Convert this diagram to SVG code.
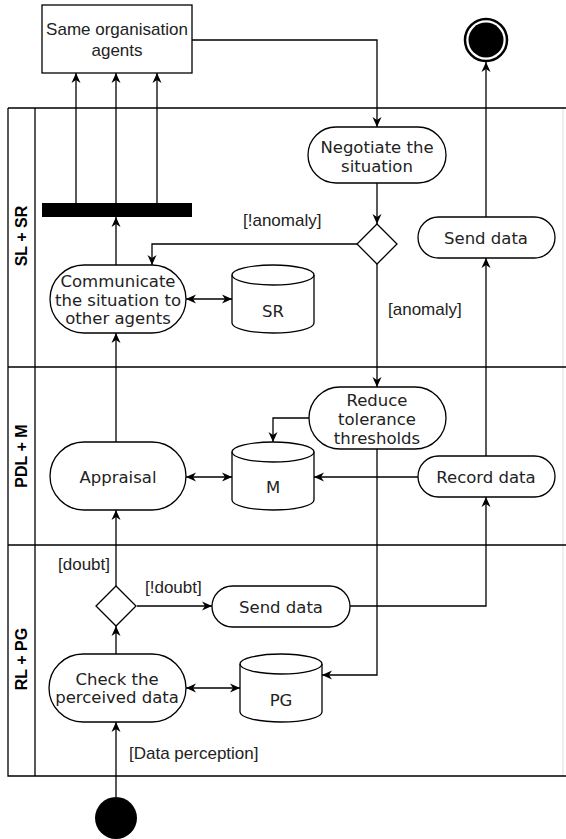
<svg xmlns="http://www.w3.org/2000/svg" width="566" height="839" viewBox="0 0 566 839">
<style>
.ln{fill:none;stroke:#000;stroke-width:1.3}
.sh{fill:#fff;stroke:#000;stroke-width:1.3}
.nt{font-family:"DejaVu Sans",Verdana,sans-serif;font-size:16.5px;fill:#222;text-anchor:middle}
.lb{font-family:"Liberation Sans",Arial,sans-serif;font-size:17px;fill:#222}
.lane{font-family:"Liberation Sans",Arial,sans-serif;font-size:16px;font-weight:bold;fill:#000;text-anchor:middle}
.ar{marker-end:url(#a)}
.bi{marker-end:url(#a);marker-start:url(#a)}
</style>
<defs>
<marker id="a" viewBox="0 0 10 10" refX="10" refY="5" markerWidth="10" markerHeight="10" markerUnits="userSpaceOnUse" orient="auto-start-reverse">
<path d="M0,0.5 L10,5 L0,9.5 L3,5 Z" fill="#000"/>
</marker>
</defs>
<rect width="566" height="839" fill="#fff"/>
<g id="pool">
<line x1="563" y1="108" x2="563" y2="776" stroke="#ddd" stroke-width="1"/>
<path class="ln" d="M8,108 H566 M8,108 V776 H566 M35,108 V776 M8,367 H566 M8,545 H566"/>
<text class="lane" transform="translate(27,236) rotate(-90)">SL + SR</text>
<text class="lane" transform="translate(27,456) rotate(-90)">PDL + M</text>
<text class="lane" transform="translate(27,659) rotate(-90)">RL + PG</text>
</g>
<g id="connectors">
<path class="ln ar" d="M192,40 H377 V127"/>
<path class="ln ar" d="M377,183 V224"/>
<path class="ln ar" d="M357,244 H152 V265"/>
<path class="ln ar" d="M377,264 V387"/>
<path class="ln ar" d="M116,265 V217"/>
<path class="ln ar" d="M76,203 V73"/>
<path class="ln ar" d="M116,203 V73"/>
<path class="ln ar" d="M157,203 V73"/>
<path class="ln bi" d="M186,299 H232"/>
<path class="ln ar" d="M116,442 V333"/>
<path class="ln ar" d="M309,418 H273 V442"/>
<path class="ln ar" d="M418,477 H314"/>
<path class="ln bi" d="M186,477 H232"/>
<path class="ln ar" d="M486,456 V258"/>
<path class="ln ar" d="M486,217 V62"/>
<path class="ln ar" d="M377,449 V675 H322"/>
<path class="ln ar" d="M116,586 V510"/>
<path class="ln ar" d="M137,606 H212"/>
<path class="ln ar" d="M350,606 H486 V497"/>
<path class="ln ar" d="M116,654 V626"/>
<path class="ln bi" d="M186,688 H240"/>
<path class="ln ar" d="M116,797 V722"/>
<text class="lb" x="243" y="226">[!anomaly]</text>
<text class="lb" x="388" y="315">[anomaly]</text>
<text class="lb" x="58" y="570">[doubt]</text>
<text class="lb" x="145" y="593">[!doubt]</text>
<text class="lb" x="129" y="759">[Data perception]</text>
</g>
<g id="agents">
<rect class="sh" x="42" y="5" width="150" height="68"/>
<text class="lb" x="117" y="35" text-anchor="middle">Same organisation</text>
<text class="lb" x="117" y="56" text-anchor="middle">agents</text>
</g>
<g id="end">
<circle cx="486" cy="40" r="21" fill="#fff" stroke="#000" stroke-width="2.5"/>
<circle cx="486" cy="40" r="17.5" fill="#000"/>
</g>
<g id="negotiate">
<rect class="sh" x="308" y="127" width="138" height="56" rx="28"/>
<text class="nt" x="377" y="153">Negotiate the</text>
<text class="nt" x="377" y="172">situation</text>
</g>
<g id="bar">
<rect x="42" y="203" width="150" height="14" fill="#000"/>
</g>
<g id="decision1">
<path class="sh" d="M377,224 L397,244 L377,264 L357,244 Z"/>
</g>
<g id="send-data-top">
<rect class="sh" x="418" y="217" width="137" height="41" rx="20.5"/>
<text class="nt" x="486" y="244">Send data</text>
</g>
<g id="communicate">
<rect class="sh" x="50" y="265" width="136" height="68" rx="34"/>
<text class="nt" x="118" y="287">Communicate</text>
<text class="nt" x="118" y="305.5">the situation to</text>
<text class="nt" x="118" y="324">other agents</text>
</g>
<g id="sr">
<path class="sh" d="M232,275 A41,10 0 0 1 314,275 V323 A41,10 0 0 1 232,323 Z"/>
<path class="ln" d="M232,275 A41,10 0 0 0 314,275"/>
<text class="nt" x="273" y="317">SR</text>
</g>
<g id="reduce">
<rect class="sh" x="309" y="387" width="137" height="62" rx="31"/>
<text class="nt" x="377" y="406">Reduce</text>
<text class="nt" x="377" y="425">tolerance</text>
<text class="nt" x="377" y="444">thresholds</text>
</g>
<g id="appraisal">
<rect class="sh" x="50" y="442" width="136" height="68" rx="34"/>
<text class="nt" x="118" y="483">Appraisal</text>
</g>
<g id="m">
<path class="sh" d="M232,452 A41,10 0 0 1 314,452 V500 A41,10 0 0 1 232,500 Z"/>
<path class="ln" d="M232,452 A41,10 0 0 0 314,452"/>
<text class="nt" x="273" y="493">M</text>
</g>
<g id="record-data">
<rect class="sh" x="418" y="456" width="137" height="41" rx="20.5"/>
<text class="nt" x="486" y="483">Record data</text>
</g>
<g id="decision2">
<path class="sh" d="M116,586 L136,606 L116,626 L96,606 Z"/>
</g>
<g id="send-data-mid">
<rect class="sh" x="212" y="586" width="138" height="41" rx="20.5"/>
<text class="nt" x="281" y="613">Send data</text>
</g>
<g id="check">
<rect class="sh" x="49" y="654" width="137" height="68" rx="34"/>
<text class="nt" x="117" y="685">Check the</text>
<text class="nt" x="117" y="703">perceived data</text>
</g>
<g id="pg">
<path class="sh" d="M240,664 A41,10 0 0 1 322,664 V712 A41,10 0 0 1 240,712 Z"/>
<path class="ln" d="M240,664 A41,10 0 0 0 322,664"/>
<text class="nt" x="281" y="706">PG</text>
</g>
<g id="start">
<circle cx="116" cy="818" r="21" fill="#000"/>
</g>
</svg>
